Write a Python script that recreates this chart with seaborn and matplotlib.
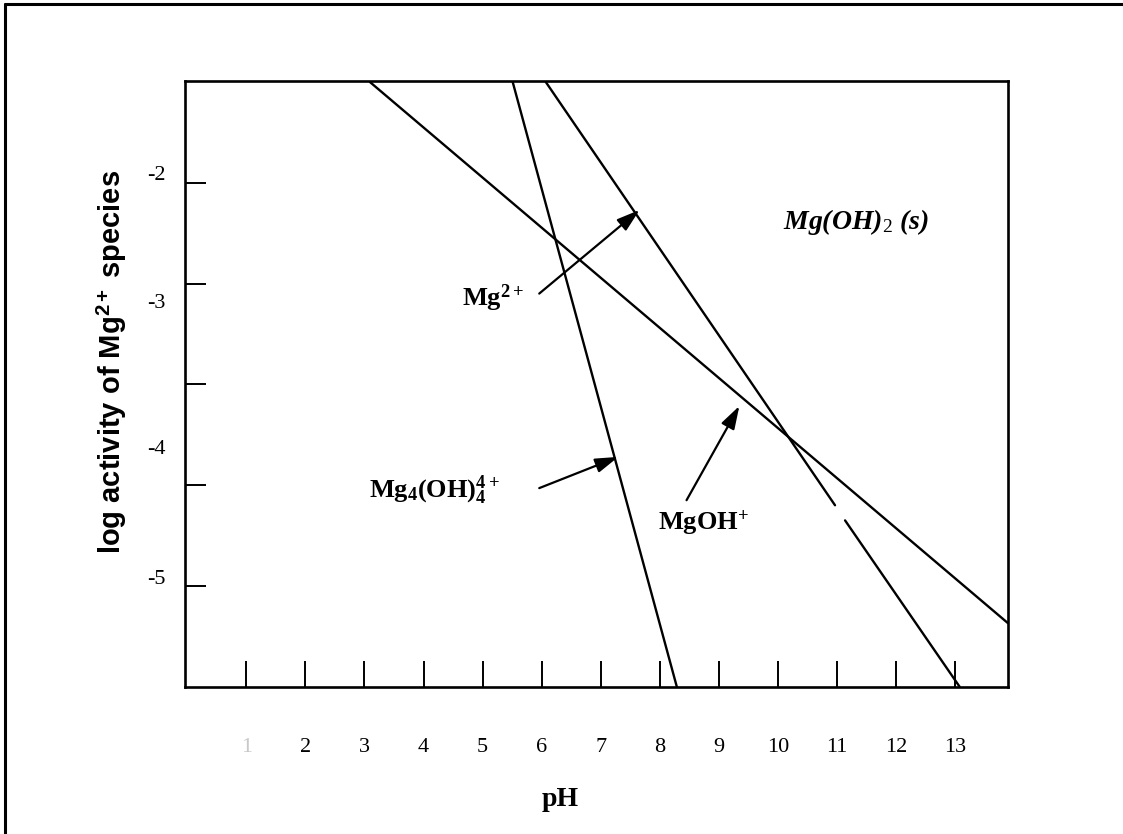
import numpy as np
import pandas as pd
import matplotlib
matplotlib.use("Agg")
import matplotlib.pyplot as plt
from matplotlib.lines import Line2D
import seaborn as sns

# ---------------- data ----------------
# Mg2+ line (drawn with a small break near pH 11)
mg2_ph = [6.07, 10.97, 11.14, 13.08]
mg2_loga = [-1.00, -5.20, -5.35, -7.00]
mg2_seg = ["Mg2+ a", "Mg2+ a", "Mg2+ b", "Mg2+ b"]

# MgOH+ line
mgoh_ph = [3.09, 13.90]
mgoh_loga = [-1.00, -6.37]

# Mg4(OH)4 4+ line
mg4_ph = [5.51, 8.29]
mg4_loga = [-1.00, -7.00]

# x tick labels
x_ticks = list(range(1, 14))
x_ticklabels = [str(v) for v in x_ticks]

# y tick marks and their (displaced) labels
y_tick_marks = [-2, -3, -4, -5, -6]
y_label_pos = [-1.90, -3.17, -4.62, -5.91]
y_label_txt = ["-2", "-3", "-4", "-5"]

# annotation arrows (tail -> tip) and texts
arrow_tail_ph = [5.96, 5.96, 8.455]
arrow_tail_loga = [-3.10, -5.03, -5.15]
arrow_tip_ph = [7.66, 7.30, 9.35]
arrow_tip_loga = [-2.27, -4.72, -4.215]

label_txt = [r"Mg$^{\mathbf{2+}}$",
             r"Mg$_{\mathbf{4}}$(OH)$_{\mathbf{4}}^{\mathbf{4+}}$",
             r"MgOH$^{\mathbf{+}}$"]
label_ph = [5.17, 4.19, 8.75]
label_loga = [-3.15, -5.05, -5.37]

# ---------------- style ----------------
sns.set_theme(style="white")
plt.rcParams["font.family"] = ["Liberation Serif", "DejaVu Serif"]
plt.rcParams["text.color"] = "black"
plt.rcParams["axes.labelcolor"] = "black"
plt.rcParams["xtick.color"] = "black"
plt.rcParams["ytick.color"] = "black"
plt.rcParams["mathtext.fontset"] = "custom"
plt.rcParams["mathtext.rm"] = "Liberation Serif"
plt.rcParams["mathtext.bf"] = "Liberation Serif:bold"
plt.rcParams["mathtext.it"] = "Liberation Serif:italic:bold"
plt.rcParams["mathtext.sf"] = "Liberation Sans:bold"

fig = plt.figure(figsize=(11.23, 8.34), dpi=100)
fig.patch.set_facecolor("white")
ax = fig.add_axes([0.16474, 0.17626, 0.73286, 0.72698])
ax.set_facecolor("white")

df = pd.concat([
    pd.DataFrame({"pH": mg2_ph, "loga": mg2_loga, "seg": mg2_seg}),
    pd.DataFrame({"pH": mgoh_ph, "loga": mgoh_loga, "seg": ["MgOH+"] * 2}),
    pd.DataFrame({"pH": mg4_ph, "loga": mg4_loga, "seg": ["Mg4"] * 2}),
], ignore_index=True)

sns.lineplot(data=df, x="pH", y="loga", units="seg", estimator=None,
             color="black", linewidth=1.7, sort=False, legend=False, ax=ax)

ax.set_xlim(-0.04, 13.90)
ax.set_ylim(-7.003, -0.988)

for s in ax.spines.values():
    s.set_visible(True)
    s.set_color("black")
    s.set_linewidth(1.9)

# x ticks (inward)
ax.set_xticks(x_ticks)
ax.set_xticklabels(x_ticklabels)
ax.tick_params(axis="x", which="major", bottom=True, direction="in",
               length=19, width=1.4, color="black", pad=37, labelsize=16,
               labelcolor="black")
ax.get_xticklabels()[0].set_color("#c8c8c8")

# y ticks (inward marks, labels at their own places)
ax.set_yticks(y_tick_marks)
ax.set_yticklabels([""] * len(y_tick_marks))
ax.set_yticks(y_label_pos, minor=True)
ax.set_yticklabels(y_label_txt, minor=True)
ax.tick_params(axis="y", which="major", left=True, direction="in",
               length=15, width=1.4, color="black")
ax.tick_params(axis="y", which="minor", left=True, length=0, pad=14,
               labelsize=16, labelcolor="black")

ax.set_xlabel("pH", fontsize=20, fontweight="bold", va="center", color="black")
ax.xaxis.set_label_coords(0.4557, -0.186)
ax.set_ylabel(r"log activity of Mg$^{\mathsf{2+}}$ species",
              fontfamily="Liberation Sans", fontweight="bold", fontsize=21,
              va="center", color="black")
ax.yaxis.set_label_coords(-0.0887, 0.536)

# arrows
for tx, ty, hx, hy in zip(arrow_tail_ph, arrow_tail_loga, arrow_tip_ph, arrow_tip_loga):
    ax.annotate("", xy=(hx, hy), xytext=(tx, ty),
                arrowprops=dict(arrowstyle="-|>,head_length=0.7,head_width=0.22",
                                color="black", lw=1.6, mutation_scale=20,
                                shrinkA=0, shrinkB=0))

for t, x, y in zip(label_txt, label_ph, label_loga):
    ax.text(x, y, t, ha="center", va="center", fontsize=19,
            fontweight="bold", color="black")

ax.text(11.32, -2.39, r"Mg(OH)$_{\mathit{2}}$ (s)", ha="center", va="center",
        fontsize=20, fontweight="bold", style="italic", color="black")

# page frame (top and left edges of the scan)
fig.add_artist(Line2D([5 / 1123, 1.0], [1 - 4 / 834, 1 - 4 / 834],
                      transform=fig.transFigure, color="black", lw=2.2))
fig.add_artist(Line2D([5 / 1123, 5 / 1123], [0.0, 1 - 4 / 834],
                      transform=fig.transFigure, color="black", lw=2.2))

fig.savefig("out.png", dpi=100, facecolor="white")
